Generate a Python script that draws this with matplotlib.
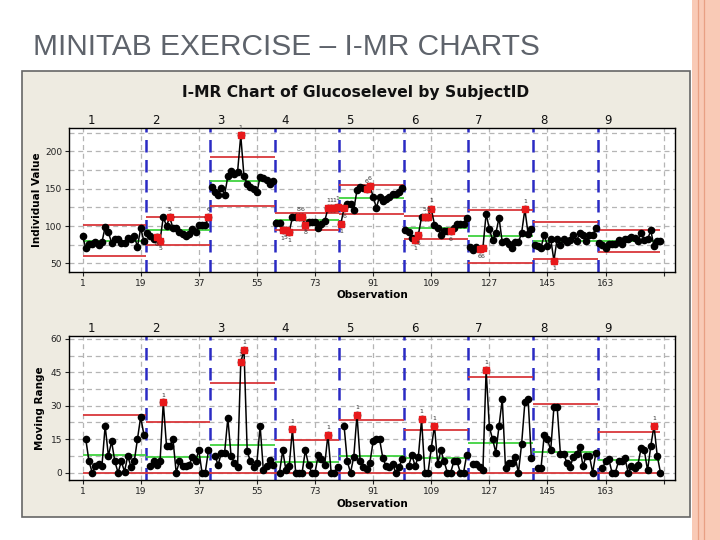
import numpy as np
import matplotlib.pyplot as plt
from matplotlib.patches import Rectangle

# ---- data ----
subjects = ["1", "2", "3", "4", "5", "6", "7", "8", "9"]

# Glucoselevel, 20 observations per subject
glucose = [
    86, 71, 76, 76, 79, 75, 78, 99, 91.5, 77.5, 82.5, 82.5, 77.5, 77, 84.5, 82, 87, 72, 97, 80,
    90, 87, 82, 85.5, 80.5, 112, 100, 112, 97, 97, 92, 89, 86, 89.5, 96.5, 91.5, 101.5, 101.5, 101.5, 111.5,
    153, 145.5, 142, 151, 142, 166.5, 174, 169.5, 172, 221.5, 166.5, 157, 152, 149.5, 145, 166, 165, 162, 156.5, 160,
    104, 104, 94, 95, 92, 111.5, 111.5, 111.5, 111.5, 101.5, 105, 105, 105, 97, 103, 106.5, 123.5, 123.5, 123.5, 126,
    103, 124, 129, 129, 122, 148, 153, 150.5, 149, 153.5, 139.5, 124.5, 139.5, 133, 136, 138.5, 142.5, 142.5, 145, 151,
    95, 92, 84, 81, 88, 112, 112, 112, 123, 102, 98, 88, 93, 93, 93, 98, 103, 103, 103, 111,
    72, 68, 72, 69.5, 70.5, 116.5, 96, 81, 90, 111, 78, 80, 75.5, 71, 78, 78, 91, 122.5, 89.5, 96,
    75, 73, 71, 88, 73, 83, 53.5, 83, 74.5, 83, 78.5, 81, 88, 79.5, 91, 88, 80.5, 88, 88, 97,
    77, 75, 70, 76, 76, 76, 81, 76, 82.5, 82.5, 85.5, 83.5, 80, 91, 81, 82, 94, 73, 80.5, 80.5,
]

# moving ranges, observations 2..20 of each subject
moving_range = [
    15, 5, 0, 3, 4, 3, 21, 7.5, 14, 5, 0, 5, 0.5, 7.5, 2.5, 5, 15, 25, 17,
    3, 5, 3.5, 5, 31.5, 12, 12, 15, 0, 5, 3, 3, 3.5, 7, 5, 10, 0, 0, 10,
    7.5, 3.5, 9, 9, 24.5, 7.5, 4.5, 2.5, 49.5, 55, 9.5, 5, 2.5, 4.5, 21, 1, 3, 5.5, 3.5,
    0, 10, 1, 3, 19.5, 0, 0, 0, 10, 3.5, 0, 0, 8, 6, 3.5, 17, 0, 0, 2.5,
    21, 5, 0, 7, 26, 5, 2.5, 1.5, 4.5, 14, 15, 15, 6.5, 3, 2.5, 4, 0, 2.5, 6,
    3, 8, 3, 7, 24, 0, 0, 11, 21, 4, 10, 5, 0, 0, 5, 5, 0, 0, 8,
    4, 4, 2.5, 1, 46, 20.5, 15, 9, 21, 33, 2, 4.5, 4.5, 7, 0, 13, 31.5, 33, 6.5,
    2, 2, 17, 15, 10, 29.5, 29.5, 8.5, 8.5, 4.5, 2.5, 7, 8.5, 11.5, 3, 7.5, 7.5, 0, 9,
    2, 5, 6, 0, 0, 5, 5, 6.5, 0, 3, 2, 3.5, 11, 10, 1, 12, 21, 7.5, 0,
]

i_center = [80, 94, 160.5, 108, 137, 98, 86, 80.5, 80]
i_ucl = [101.5, 112.5, 192.5, 117.5, 155, 113.5, 121.5, 105, 94.5]
i_lcl = [60, 75, 127, 95, 116.5, 82.5, 50, 55.5, 65]
mr_center = [7.9, 6.9, 12.4, 4.6, 7.5, 6.4, 13.5, 9.4, 5.7]
mr_ucl = [25.9, 22.5, 40.4, 14.7, 23.7, 19.2, 43.1, 30.7, 18.4]

# flagged observations (test number shown beside the point)
i_flag_obs = [24, 25, 28, 40, 50, 63, 64, 65, 68, 69, 70, 77, 78, 79, 80,
              81, 82, 89, 90, 104, 105, 107, 108, 109, 115, 124, 125, 138, 147]
i_flag_txt = ["6", "5", "5", "6", "1", "1", "5", "1", "8", "6", "8", "1", "1", "1", "1",
              "1", "6", "6", "6", "1", "5", "5", "5", "1", "6", "6", "6", "1", "1"]
i_flag_up = [0, 0, 1, 1, 1, 0, 0, 0, 1, 1, 0, 1, 1, 1, 1,
             0, 0, 1, 1, 0, 0, 1, 1, 1, 0, 0, 0, 1, 0]
mr_flag_obs = [26, 50, 51, 66, 77, 86, 106, 110, 126, 178]

W, H = 720, 540
RED, GREEN, BLUE = "#D9373A", "#3FD23F", "#2B2BC4"
GRID = "#B5B5B5"

fig = plt.figure(figsize=(7.2, 5.4), dpi=100)
fig.patch.set_facecolor("white")


def fx(px):
    return px / W


def fy(py):
    return 1 - py / H


# slide decoration: pink frame on the right
fig.patches.append(Rectangle((fx(692), 0), fx(28), 1, transform=fig.transFigure,
                             fc="#F9CAB6", ec="none", zorder=-5))
for xl in (697.5, 703.5):
    fig.lines.append(plt.Line2D([fx(xl), fx(xl)], [0, 1], transform=fig.transFigure,
                                color="#E9A084", lw=0.9, zorder=-4))

fig.text(fx(33), fy(55), "MINITAB EXERCISE \u2013 I-MR CHARTS", family="Liberation Sans",
         fontsize=21.5, color="#5E636B", ha="left", va="baseline")

# minitab graph panel
fig.patches.append(Rectangle((fx(22), fy(517)), fx(668), (517 - 71) / H,
                             transform=fig.transFigure, fc="#EEEBE1", ec="#666666", lw=1.2,
                             zorder=-5))
fig.text(fx(356), fy(92), "I-MR Chart of Glucoselevel by SubjectID", fontsize=11.2,
         fontweight="bold", ha="center", va="center", color="#111111")

ax1 = fig.add_axes([fx(69), fy(271.7), fx(606), 143.7 / H])
ax2 = fig.add_axes([fx(69), fy(480), fx(606), 144 / H])

glucose = np.array(glucose, dtype=float)
mr = np.array(moving_range, dtype=float).reshape(9, 19)
obs = np.arange(1, len(glucose) + 1)


def style_axes(ax, yticks, ygrid, ylim, ylabel, ylab_x):
    ax.set_xlim(-3.2, 184.5)
    ax.set_ylim(*ylim)
    for g in ygrid:
        ax.axhline(g, color=GRID, lw=0.9, dashes=(4, 3), zorder=0)
    for g in range(1, 182, 18):
        ax.axvline(g, color=GRID, lw=0.9, dashes=(4, 3), zorder=0)
    ax.set_xticks(range(1, 182, 18))
    ax.set_xticklabels([str(t) if t < 181 else "" for t in range(1, 182, 18)])
    ax.set_yticks(yticks)
    ax.tick_params(labelsize=6.5, length=3, width=0.8, pad=2, colors="#222222")
    for s in ax.spines.values():
        s.set_color("black")
        s.set_linewidth(1.0)
    for k in range(1, 9):
        ax.axvline(20 * k + 0.5, color=BLUE, lw=1.8, dashes=(5, 3), zorder=2)
    for k, name in enumerate(subjects):
        ax.text(20 * k + 3.8, 1.01, name, transform=ax.get_xaxis_transform(),
                ha="center", va="bottom", fontsize=8.5, color="#111111")
    ax.text(ylab_x, 0.5, ylabel, transform=ax.transAxes, rotation=90, fontsize=7.5,
            fontweight="bold", ha="center", va="center")
    ax.text(0.5, -0.165, "Observation", transform=ax.transAxes, fontsize=7.5,
            fontweight="bold", ha="center", va="center")


def stage_span(k):
    x0 = 1 if k == 0 else 20 * k + 0.5
    x1 = 180 if k == 8 else 20 * k + 20.5
    return x0, x1


# ---- Individual chart ----
style_axes(ax1, [50, 100, 150, 200], np.arange(50, 226, 25), (38.7, 231.5),
           "Individual Value", -0.053)
for k in range(9):
    x0, x1 = stage_span(k)
    ax1.hlines([i_ucl[k], i_lcl[k]], x0, x1, color=RED, lw=1.3, zorder=3)
    ax1.hlines(i_center[k], x0, x1, color=GREEN, lw=1.3, zorder=3)
    sl = slice(20 * k, 20 * k + 20)
    ax1.plot(obs[sl], glucose[sl], color="black", lw=1.1, marker="o", ms=4.5, zorder=4)

fo = np.array(i_flag_obs)
ax1.plot(fo, glucose[fo - 1], ls="none", marker="s", ms=4.8, color="#E8191B", zorder=5)
for o, t, up in zip(i_flag_obs, i_flag_txt, i_flag_up):
    ax1.annotate(t, (o, glucose[o - 1]), xytext=(0, 4 if up else -4),
                 textcoords="offset points", ha="center", va="bottom" if up else "top",
                 fontsize=4.5, color="#333333", zorder=6)

# ---- Moving range chart ----
style_axes(ax2, [0, 15, 30, 45, 60], np.arange(0, 61, 7.5), (-3.3, 61.3),
           "Moving Range", -0.048)
for k in range(9):
    x0, x1 = stage_span(k)
    ax2.hlines([mr_ucl[k], 0], x0, x1, color=RED, lw=1.3, zorder=3)
    ax2.hlines(mr_center[k], x0, x1, color=GREEN, lw=1.3, zorder=3)
    ax2.plot(obs[20 * k + 1:20 * k + 20], mr[k], color="black", lw=1.1, marker="o",
             ms=4.5, zorder=4)

mr_full = np.full(len(glucose), np.nan)
for k in range(9):
    mr_full[20 * k + 1:20 * k + 20] = mr[k]
mo = np.array(mr_flag_obs)
ax2.plot(mo, mr_full[mo - 1], ls="none", marker="s", ms=4.8, color="#E8191B", zorder=5)
for o in mr_flag_obs:
    ax2.annotate("1", (o, mr_full[o - 1]), xytext=(0, 3.5), textcoords="offset points",
                 ha="center", va="bottom", fontsize=4.5, color="#333333", zorder=6)

fig.savefig("out.png", dpi=100)
